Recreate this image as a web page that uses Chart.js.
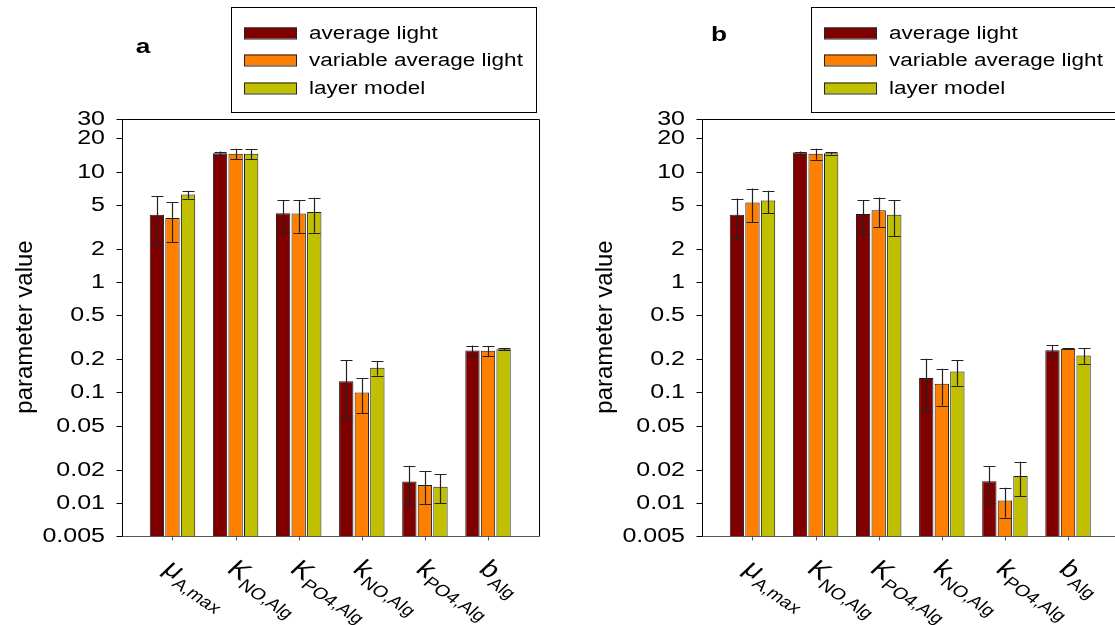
<!DOCTYPE html>
<html>
<head>
<meta charset="UTF-8">
<title>Parameter values</title>
<script src="https://cdn.jsdelivr.net/npm/chart.js"></script>
<style>
  html, body { margin: 0; padding: 0; background: #fff; overflow: hidden; }
  body { width: 1115px; height: 625px; position: relative; }
  canvas { position: absolute; top: 0; }
  #chartA { left: 0; }
  #chartB { left: 580px; }
</style>
</head>
<body>
<canvas id="chartA" width="560" height="625"></canvas>
<canvas id="chartB" width="560" height="625"></canvas>

<script>
// categories (main symbol + subscript)
var catMain = ['\u03bc', 'K', 'K', 'k', 'k', 'b'];
var catSub = ['A,max', 'NO,Alg', 'PO4,Alg', 'NO,Alg', 'PO4,Alg', 'Alg'];
var seriesNames = ['average light', 'variable average light', 'layer model'];
var seriesColors = ['#800000', '#ff8000', '#c0c000'];
var yTicks = [0.005, 0.01, 0.02, 0.05, 0.1, 0.2, 0.5, 1, 2, 5, 10, 20, 30];

// panel a
var avgA = [4.08, 14.7, 4.2, 0.126, 0.0156, 0.240];
var avgErrA = [1.9, 0.5, 1.35, 0.069, 0.006, 0.026];
var varA = [3.8, 14.5, 4.17, 0.100, 0.0145, 0.238];
var varErrA = [1.5, 1.6, 1.38, 0.035, 0.0048, 0.025];
var layA = [6.2, 14.5, 4.3, 0.167, 0.014, 0.246];
var layErrA = [0.5, 1.5, 1.5, 0.025, 0.0041, 0.006];

// panel b
var avgB = [4.07, 14.9, 4.14, 0.135, 0.0157, 0.2405];
var avgErrB = [1.63, 0.3, 1.4, 0.067, 0.0058, 0.026];
var varB = [5.25, 14.5, 4.48, 0.120, 0.0105, 0.248];
var varErrB = [1.78, 1.65, 1.35, 0.044, 0.0032, 0.003];
var layB = [5.47, 14.7, 4.07, 0.155, 0.0175, 0.216];
var layErrB = [1.25, 0.4, 1.48, 0.04, 0.006, 0.036];

var FONT = "'Liberation Sans', Arial, sans-serif";
var SX = 1.25; // the original figure is stretched horizontally

function stretchedText(ctx, text, x, y, font, align, baseline, rot, sx) {
    ctx.save();
    ctx.translate(x, y);
    ctx.scale(sx || SX, 1);
    if (rot) ctx.rotate(rot);
    ctx.font = font;
    ctx.textAlign = align;
    ctx.textBaseline = baseline;
    ctx.fillStyle = '#000';
    ctx.fillText(text, 0, 0);
    ctx.restore();
}

var panelDecor = {
    id: 'panelDecor',
    afterDatasetsDraw: function (chart) {
        var ctx = chart.ctx, ys = chart.scales.y;
        // error bars
        ctx.save();
        ctx.strokeStyle = '#222';
        ctx.lineWidth = 1.2;
        chart.data.datasets.forEach(function (ds, i) {
            chart.getDatasetMeta(i).data.forEach(function (bar, j) {
                var v = ds.data[j].y, e = ds.errors[j];
                var top = ys.getPixelForValue(v + e);
                var bot = ys.getPixelForValue(Math.max(v - e, ys.min));
                var x = Math.round(bar.x) + 0.5;
                ctx.beginPath();
                ctx.moveTo(x, top); ctx.lineTo(x, bot);
                ctx.moveTo(x - 6, Math.round(top) + 0.5); ctx.lineTo(x + 6, Math.round(top) + 0.5);
                ctx.moveTo(x - 6, Math.round(bot) + 0.5); ctx.lineTo(x + 6, Math.round(bot) + 0.5);
                ctx.stroke();
            });
        });
        ctx.restore();
    },
    afterDraw: function (chart) {
        var ctx = chart.ctx, a = chart.chartArea;
        var xs = chart.scales.x, ys = chart.scales.y;
        var opts = chart.options.plugins.panelDecor;
        var L = Math.round(a.left) + 0.5, R = Math.round(a.right) + 0.5;
        var T = Math.round(a.top) + 0.5, B = Math.round(a.bottom) + 0.5;
        ctx.save();
        // frame
        ctx.lineWidth = 1;
        ctx.strokeStyle = '#000';
        ctx.beginPath();
        ctx.moveTo(L, B); ctx.lineTo(L, T); ctx.lineTo(R, T); ctx.lineTo(R, B);
        ctx.stroke();
        ctx.strokeStyle = '#555';
        ctx.beginPath();
        ctx.moveTo(L, B); ctx.lineTo(R, B);
        ctx.stroke();

        // y ticks and labels
        ctx.strokeStyle = '#000';
        yTicks.forEach(function (v) {
            var py = Math.round(ys.getPixelForValue(v)) + 0.5;
            ctx.beginPath();
            ctx.moveTo(L - 6, py); ctx.lineTo(L, py);
            ctx.stroke();
            stretchedText(ctx, String(v), a.left - 17, py, '20px ' + FONT, 'right', 'middle');
        });

        // x ticks and labels
        ctx.strokeStyle = '#555';
        catMain.forEach(function (m, i) {
            var px = Math.round(xs.getPixelForValue(i + 1)) + 0.5;
            ctx.beginPath();
            ctx.moveTo(px, B); ctx.lineTo(px, B + 4);
            ctx.stroke();
            ctx.save();
            ctx.translate(px - 11, 571);
            ctx.scale(SX, 1);
            ctx.rotate(40 * Math.PI / 180);
            ctx.fillStyle = '#000';
            ctx.textAlign = 'left';
            ctx.textBaseline = 'alphabetic';
            ctx.font = '24px ' + FONT;
            ctx.fillText(m, 0, 0);
            var w = ctx.measureText(m).width;
            ctx.font = '16px ' + FONT;
            ctx.fillText(catSub[i], w + 1, 6);
            ctx.restore();
        });

        // y title
        stretchedText(ctx, 'parameter value', 25, 327, '24px ' + FONT, 'center', 'middle', -Math.PI / 2, 1);

        // panel letter
        stretchedText(ctx, opts.letter, opts.letterX, opts.letterY, 'bold 21px ' + FONT, 'center', 'middle');

        // legend
        ctx.strokeStyle = '#000';
        ctx.lineWidth = 1;
        ctx.strokeRect(231.5, 7.5, 305, 105);
        var rows = [33, 60, 88];
        chart.data.datasets.forEach(function (ds, i) {
            ctx.fillStyle = ds.backgroundColor;
            ctx.fillRect(244, rows[i] - 5.5, 53, 11);
            ctx.strokeStyle = '#222';
            ctx.strokeRect(244.5, rows[i] - 5, 52, 11);
            stretchedText(ctx, ds.label, 309, rows[i] + 1, '18px ' + FONT, 'left', 'middle');
        });
        ctx.restore();
    }
};

function makeChart(id, values, errors, letter, letterX, letterY) {
    var datasets = seriesNames.map(function (name, s) {
        return {
            label: name,
            data: values[s].map(function (v, i) { return {x: i + 1, y: v}; }),
            errors: errors[s],
            backgroundColor: seriesColors[s],
            borderColor: '#1a1a1a',
            borderWidth: 1,
            categoryPercentage: 0.74,
            barPercentage: 0.92
        };
    });
    return new Chart(document.getElementById(id).getContext('2d'), {
        type: 'bar',
        data: {datasets: datasets},
        plugins: [panelDecor],
        options: {
            responsive: false,
            animation: false,
            layout: {padding: {left: 122, top: 119, right: 21.5, bottom: 89}},
            scales: {
                x: {
                    type: 'linear', min: 0.2, max: 6.8, offset: false, display: false,
                    afterBuildTicks: function (scale) {
                        scale.ticks = catMain.map(function (m, i) { return {value: i + 1}; });
                    }
                },
                y: {type: 'logarithmic', min: 0.005, max: 30, display: false}
            },
            plugins: {
                legend: {display: false},
                tooltip: {enabled: false},
                panelDecor: {letter: letter, letterX: letterX, letterY: letterY}
            }
        }
    });
}

makeChart('chartA', [avgA, varA, layA], [avgErrA, varErrA, layErrA], 'a', 143, 47);
makeChart('chartB', [avgB, varB, layB], [avgErrB, varErrB, layErrB], 'b', 139, 35);
</script>
</body>
</html>
